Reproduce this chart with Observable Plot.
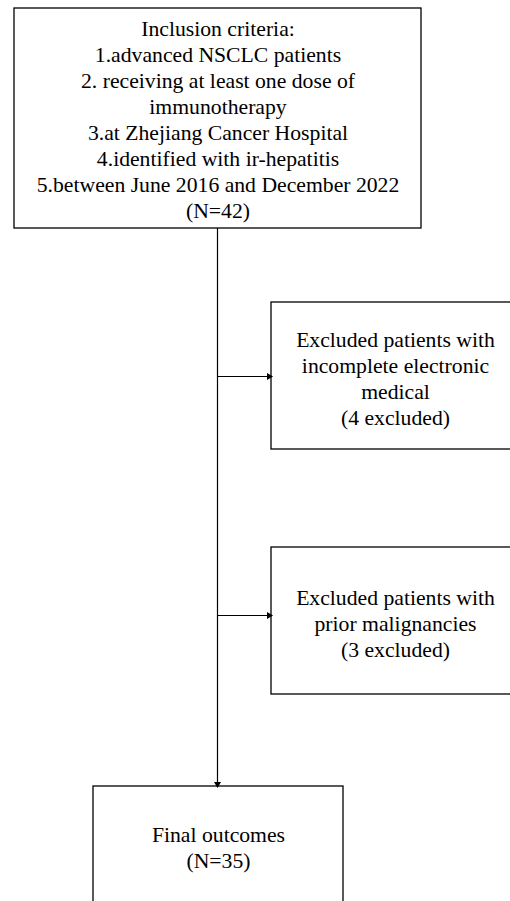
<!DOCTYPE html>
<html>
<head>
<meta charset="utf-8">
<script src="https://cdn.jsdelivr.net/npm/d3@7"></script>
<script src="https://cdn.jsdelivr.net/npm/@observablehq/plot@0.6"></script>
<style>
  html, body { margin: 0; padding: 0; background: #fff; }
  #chart svg { display: block; }
</style>
</head>
<body>
<div id="chart"></div>
<script>
// Flowchart content
const boxIds = ["inclusion", "excl1", "excl2", "final"];
const boxTexts = [
  "Inclusion criteria:\n1.advanced NSCLC patients\n2. receiving at least one dose of\nimmunotherapy\n3.at Zhejiang Cancer Hospital\n4.identified with ir-hepatitis\n5.between June 2016 and December 2022\n(N=42)",
  "Excluded patients with\nincomplete electronic\nmedical\n(4 excluded)",
  "Excluded patients with\nprior malignancies\n(3 excluded)",
  "Final outcomes\n(N=35)"
];
const patientCounts = [42, 4, 3, 35];

// Layout (pixel space of the page)
const layoutX1 = [14, 271, 271, 93];
const layoutX2 = [421, 519, 519, 343];
const layoutY1 = [8, 302, 547, 786];
const layoutY2 = [228, 449, 694, 910];
const textY = [118, 377, 622, 846];
const textX = [217.5, 395, 395, 218];

const boxes = boxIds.map((id, i) => ({
  id, text: boxTexts[i], n: patientCounts[i],
  x1: layoutX1[i], x2: layoutX2[i], y1: layoutY1[i], y2: layoutY2[i],
  tx: textX[i], ty: textY[i]
}));

const trunkX = 217;
const trunk = [{x: trunkX, y1: 228, y2: 786}];
const branches = [
  {x1: trunkX, x2: 271, y: 376},
  {x1: trunkX, x2: 271, y: 615}
];
const headsRight = branches.map(b => ({x: b.x2, y: b.y}));
const headsDown = [{x: trunkX, y: 786}];

const chart = Plot.plot({
  width: 510,
  height: 901,
  margin: 0,
  x: {domain: [0, 510], range: [0, 510], axis: null},
  y: {domain: [0, 901], range: [0, 901], axis: null},
  marks: [
    Plot.rect(boxes, {x1: "x1", x2: "x2", y1: "y1", y2: "y2", fill: "none", stroke: "#000", strokeWidth: 1.3, clip: true}),
    Plot.ruleX(trunk, {x: "x", y1: "y1", y2: "y2", stroke: "#000", strokeWidth: 1.2}),
    Plot.ruleY(branches, {x1: "x1", x2: "x2", y: "y", stroke: "#000", strokeWidth: 1.2}),
    Plot.dot(headsRight, {x: "x", y: "y", symbol: "triangle", r: 2.6, fill: "#000", stroke: "none", rotate: 90, dx: -2.5}),
    Plot.dot(headsDown, {x: "x", y: "y", symbol: "triangle", r: 2.6, fill: "#000", stroke: "none", rotate: 180, dy: -2.5}),
    Plot.text(boxes, {x: "tx", y: "ty", text: "text", fontFamily: "'Liberation Serif', 'Times New Roman', serif", fontSize: 21.7, lineHeight: 1.2, lineAnchor: "middle", textAnchor: "middle", fill: "#000"})
  ]
});
document.getElementById("chart").appendChild(chart);
</script>
</body>
</html>
